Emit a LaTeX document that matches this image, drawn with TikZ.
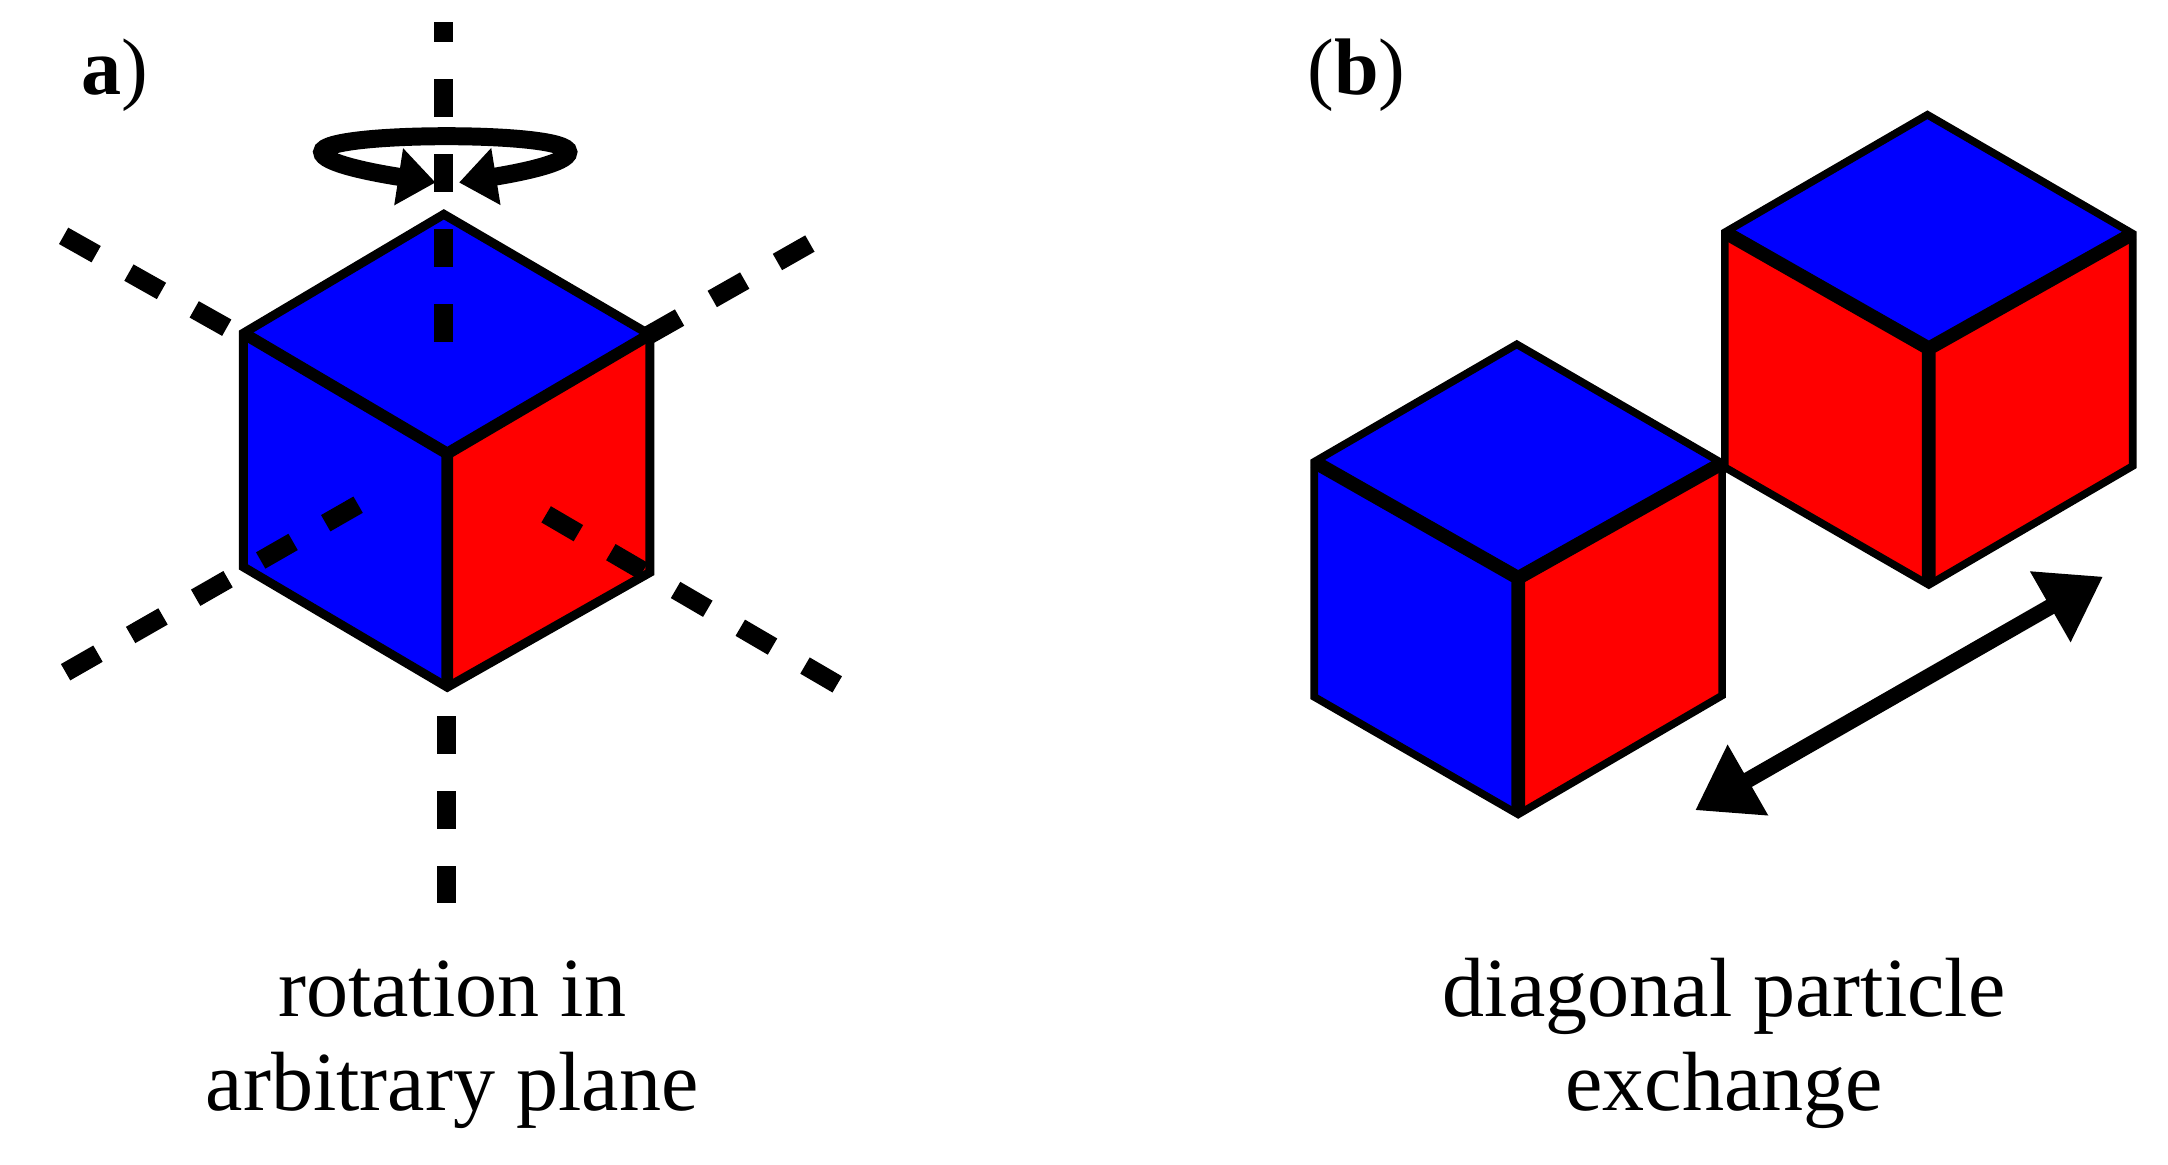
\documentclass[tikz,border=0pt]{standalone}
\usepackage{fontspec}
\setmainfont{Liberation Serif}
\usetikzlibrary{arrows.meta}
\tikzset{
	outline/.style={draw=black, line width=0.55mm, line join=miter},
	inneredge/.style={line width=0.85mm},
	axisdash/.style={line width=1.36mm, dash pattern=on 2.7mm off 2.72mm},
	caption/.style={font=\fontsize{17.3}{19.4}\selectfont, align=center, inner sep=0pt, anchor=base},
	tag/.style={font=\fontsize{16.5}{20}\selectfont, inner sep=0pt, anchor=base west}
}
\begin{document}
\begin{tikzpicture}
	\useasboundingbox (0,0) rectangle (15.68,-8.419);
	% Cube a
	\coordinate (atop) at (3.21,-1.55);
	\coordinate (aleft) at (1.76,-2.41);
	\coordinate (aright) at (4.70,-2.42);
	\coordinate (acenter) at (3.235,-3.28);
	\coordinate (abottom) at (3.235,-4.97);
	\coordinate (alow) at (1.76,-4.10);
	\coordinate (arlow) at (4.70,-4.14);
	\fill[blue] (atop) -- (aright) -- (acenter) -- (aleft) -- cycle;
	\fill[blue] (aleft) -- (acenter) -- (abottom) -- (alow) -- cycle;
	\fill[red] (aright) -- (acenter) -- (abottom) -- (arlow) -- cycle;
	\draw[outline, line width=0.65mm] (aleft) -- (atop) -- (aright) -- (arlow) -- (abottom) -- (alow) -- cycle;
	\draw[inneredge] (aleft) -- (acenter) -- (aright) (acenter) -- (abottom);
	% Axes
	\coordinate (vtopa) at (3.21,-2.47);
	\coordinate (vtopb) at (3.21,-0.16);
	\coordinate (vlowa) at (3.23,-5.18);
	\coordinate (vlowb) at (3.23,-6.54);
	\coordinate (ula) at (1.64,-2.37);
	\coordinate (ulb) at (0.45,-1.70);
	\coordinate (ura) at (4.68,-2.43);
	\coordinate (urb) at (5.86,-1.76);
	\coordinate (lla) at (2.59,-3.65);
	\coordinate (llb) at (0.46,-4.87);
	\coordinate (lra) at (3.95,-3.72);
	\coordinate (lrb) at (6.09,-4.97);
	\foreach \from/\to in {vtopa/vtopb, vlowa/vlowb, ula/ulb, ura/urb, lla/llb, lra/lrb}
		\draw[axisdash] (\from) -- (\to);
	% Rotation arrow
	\coordinate (spinl) at (3.15,-1.32);
	\coordinate (spinr) at (3.32,-1.32);
	\draw[{Stealth[length=2.7mm, width=4mm, inset=0pt]}-{Stealth[length=2.7mm, width=4mm, inset=0pt]}, line width=1.3mm]
		(spinl) .. controls (2.70,-1.25) and (2.33,-1.18) .. (2.33,-1.10)
		.. controls (2.33,-1.02) and (2.80,-0.985) .. (3.23,-0.985)
		.. controls (3.66,-0.985) and (4.11,-1.02) .. (4.11,-1.10)
		.. controls (4.11,-1.18) and (3.75,-1.25) .. (spinr);
	% Cubes b
	\foreach \sx/\sy/\sidecolor in {0/0/blue, 2.97/1.66/red}{
		\begin{scope}[shift={(\sx,\sy)}]
			\coordinate (btop) at (10.97,-2.49);
			\coordinate (bleft) at (9.505,-3.34);
			\coordinate (bright) at (12.455,-3.35);
			\coordinate (bcenter) at (10.98,-4.18);
			\coordinate (bbottom) at (10.98,-5.89);
			\coordinate (blow) at (9.505,-5.04);
			\coordinate (brlow) at (12.455,-5.03);
			\fill[blue] (btop) -- (bright) -- (bcenter) -- (bleft) -- cycle;
			\fill[\sidecolor] (bleft) -- (bcenter) -- (bbottom) -- (blow) -- cycle;
			\fill[red] (bright) -- (bcenter) -- (bbottom) -- (brlow) -- cycle;
			\draw[outline] (bleft) -- (btop) -- (bright) -- (brlow) -- (bbottom) -- (blow) -- cycle;
			\draw[inneredge, line width=1mm] (bleft) -- (bcenter) -- (bright) (bcenter) -- (bbottom);
		\end{scope}
	}
	% Exchange arrow
	\coordinate (swapa) at (12.26,-5.86);
	\coordinate (swapb) at (15.21,-4.17);
	\draw[{Stealth[length=4.4mm, width=5.6mm, inset=0pt]}-{Stealth[length=4.4mm, width=5.6mm, inset=0pt]}, line width=1.15mm] (swapa) -- (swapb);
	% Labels
	\node[tag] (taga) at (0.58,-0.68) {\textbf{a})};
	\node[tag] (tagb) at (9.45,-0.68) {(\textbf{b})};
	\node[caption] (rotcap) at (3.27,-8.035) {rotation in\\arbitrary plane};
	\node[caption] (swapcap) at (12.47,-8.035) {diagonal particle\\exchange};
\end{tikzpicture}
\end{document}
